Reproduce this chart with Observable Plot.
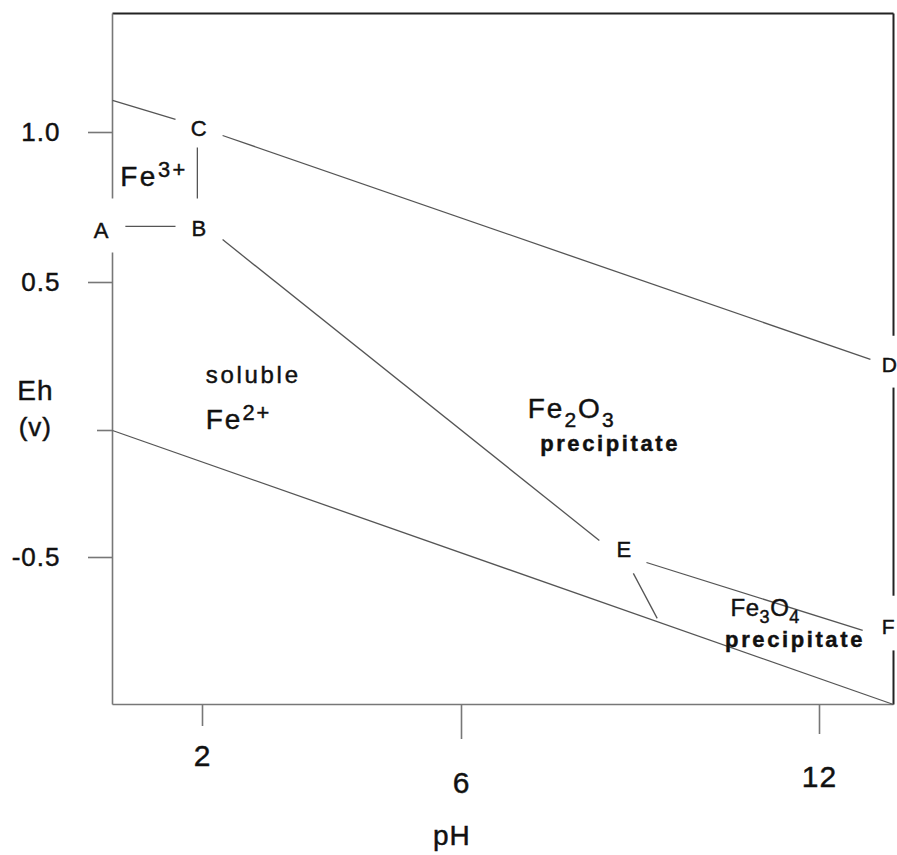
<!DOCTYPE html>
<html><head><meta charset="utf-8">
<script src="https://cdn.jsdelivr.net/npm/d3@7"></script>
<script src="https://cdn.jsdelivr.net/npm/@observablehq/plot@0.6"></script>
<style>
html,body{margin:0;padding:0;background:#fff;overflow:hidden}
#chart svg text{letter-spacing:1px;stroke:#111;stroke-width:0.45px}
</style></head><body><div id="chart"></div>
<script>
// ---- axis ticks ----
const xTicks = [2, 6, 12];
const yTicks = [1.0, 0.5, -0.5];
const yZeroTick = [0];

// ---- phase boundary lines (pH, Eh in volts) ----
const lineNames = ["O2 left", "O2 (C-D)", "A-B", "C-B", "B-E", "H2 line", "E-F", "E tie"];
const linePH1 = [0.6, 2.31, 0.80, 1.92, 2.31, 0.6, 9.10, 8.88];
const lineEh1 = [1.108, 0.99, 0.687, 0.95, 0.643, 0.0, -0.517, -0.554];
const linePH2 = [1.58, 12.86, 1.58, 1.92, 8.31, 13.25, 12.73, 9.28];
const lineEh2 = [1.044, 0.24, 0.687, 0.78, -0.433, -1.0, -0.748, -0.707];

// ---- plot frame segments (with gaps at labels A, D, F) ----
const frameSide = ["top", "left", "left", "right", "right", "right", "bottom"];
const framePH1 = [0.6, 0.6, 0.6, 13.25, 13.25, 13.25, 0.6];
const frameEh1 = [1.4, 1.4, 0.60, 1.4, 0.145, -0.816, -1.0];
const framePH2 = [13.25, 0.6, 0.6, 13.25, 13.25, 13.25, 13.25];
const frameEh2 = [1.4, 0.78, -1.0, 0.32, -0.63, -1.0, -1.0];

// ---- point letters ----
const pointLetters = ["A", "B", "C", "E"];
const pointPH = [0.43, 1.95, 1.95, 8.73];
const pointEh = [0.673, 0.677, 1.012, -0.469];
// letters at the right edge (left-aligned)
const edgeLetters = ["D", "F"];
const edgePH = [13.05, 13.05];
const edgeEh = [0.22, -0.738];

// ---- region labels ( ^{} superscript, _{} subscript ) ----
const regionText = ["Fe^{3+}", "soluble", "Fe^{2+}", "Fe_{2}O_{3}", "Fe_{3}O_{4}"];
const regionPH = [0.72, 2.05, 2.05, 7.11, 10.51];
const regionEh = [0.853, 0.185, 0.037, 0.072, -0.673];
const regionSize = [28, 24, 28, 28, 24];

const precipText = ["precipitate", "precipitate"];
const precipPH = [8.49, 11.59];
const precipEh = [-0.052, -0.782];

// ---- axis titles ----
const titleText = ["Eh", "(v)", "pH"];
const titlePH = [-0.6, -0.6, 5.85];
const titleEh = [0.132, 0.011, -1.446];
const titleSize = [28, 26, 28];

// tables
const lines = lineNames.map((n, i) => ({n, x1: linePH1[i], y1: lineEh1[i], x2: linePH2[i], y2: lineEh2[i]}));
const frame = frameSide.map((s, i) => ({s, x1: framePH1[i], y1: frameEh1[i], x2: framePH2[i], y2: frameEh2[i]}));
const points = pointLetters.map((t, i) => ({t, x: pointPH[i], y: pointEh[i]}));
const edges = edgeLetters.map((t, i) => ({t, x: edgePH[i], y: edgeEh[i]}));
const regions = regionText.map((t, i) => ({t, x: regionPH[i], y: regionEh[i], s: regionSize[i]}));
const precips = precipText.map((t, i) => ({t, x: precipPH[i], y: precipEh[i]}));
const titles = titleText.map((t, i) => ({t, x: titlePH[i], y: titleEh[i], s: titleSize[i]}));

const axisCommon = {stroke: "#777", strokeWidth: 1.6, fill: "#111", label: null};

const chart = Plot.plot({
  width: 897,
  height: 855,
  marginLeft: 112,
  marginTop: 13,
  marginRight: 4,
  marginBottom: 151,
  style: {fontFamily: "'Liberation Sans', Arial, Helvetica, sans-serif", background: "#fff", color: "#111"},
  x: {type: "linear", domain: [0.6, 2, 6, 12, 13.25], range: [112, 202, 461, 819, 893], label: null},
  y: {type: "linear", domain: [-1.0, -0.5, 0, 0.5, 1.0, 1.4], range: [704, 557, 430, 282, 132, 13], label: null},
  marks: [
    // frame
    Plot.link(frame.filter(d => d.s === "top" || d.s === "right"), {x1: "x1", y1: "y1", x2: "x2", y2: "y2", stroke: "#222", strokeWidth: 2}),
    Plot.link(frame.filter(d => d.s === "left" || d.s === "bottom"), {x1: "x1", y1: "y1", x2: "x2", y2: "y2", stroke: "#777", strokeWidth: 1.6}),
    // axes
    Plot.axisY(yTicks, {...axisCommon, tickSize: 24, tickPadding: 28, fontSize: 26, tickFormat: d => d.toFixed(1)}),
    Plot.axisY(yZeroTick, {...axisCommon, tickSize: 15, tickFormat: () => ""}),
    Plot.axisX([xTicks[0]], {...axisCommon, tickSize: 22, tickPadding: 18, fontSize: 30}),
    Plot.axisX([xTicks[1]], {...axisCommon, tickSize: 35, tickPadding: 32, fontSize: 30}),
    Plot.axisX([xTicks[2]], {...axisCommon, tickSize: 30, tickPadding: 31, fontSize: 30}),
    // boundaries
    Plot.link(lines, {x1: "x1", y1: "y1", x2: "x2", y2: "y2", stroke: "#555", strokeWidth: 1.3}),
    // labels
    Plot.text(points, {x: "x", y: "y", text: "t", fontSize: 22, fill: "#111"}),
    Plot.text(edges, {x: "x", y: "y", text: "t", fontSize: 21, textAnchor: "start", fill: "#111"}),
    Plot.text(regions, {x: "x", y: "y", text: "t", fontSize: "s", textAnchor: "start", fill: "#111"}),
    Plot.text(precips, {x: "x", y: "y", text: "t", fontSize: 22, fontWeight: "bold", fill: "#111"}),
    Plot.text(titles, {x: "x", y: "y", text: "t", fontSize: "s", fill: "#111"})
  ]
});

document.getElementById("chart").append(chart);

// rich text: superscripts / subscripts, letter spacing
const NS = "http://www.w3.org/2000/svg";
const spacing = {"soluble": "2.7px", "precipitate": "2.6px", "Fe^{3+}": "2.5px", "Fe^{2+}": "2px", "Fe_{2}O_{3}": "2px", "Fe_{3}O_{4}": "0.5px"};
d3.select(chart).selectAll("text").each(function () {
  const s = this.textContent;
  if (spacing[s]) this.style.letterSpacing = spacing[s];
  if (!/[\^_]\{/.test(s)) return;
  const fs = parseFloat(getComputedStyle(this).fontSize);
  this.textContent = "";
  const re = /([\^_])\{([^}]*)\}|([^\^_]+)/g;
  let m, shift = 0;
  while ((m = re.exec(s))) {
    const ts = document.createElementNS(NS, "tspan");
    if (m[1]) {
      const target = m[1] === "^" ? -0.32 * fs : 0.3 * fs;
      ts.setAttribute("dy", target - shift);
      shift = target;
      ts.setAttribute("font-size", (m[1] === "^" ? 0.78 : 0.75) * fs);
      ts.textContent = m[2];
    } else {
      if (shift) ts.setAttribute("dy", -shift);
      shift = 0;
      ts.textContent = m[3];
    }
    this.append(ts);
  }
});
</script>
</body></html>
